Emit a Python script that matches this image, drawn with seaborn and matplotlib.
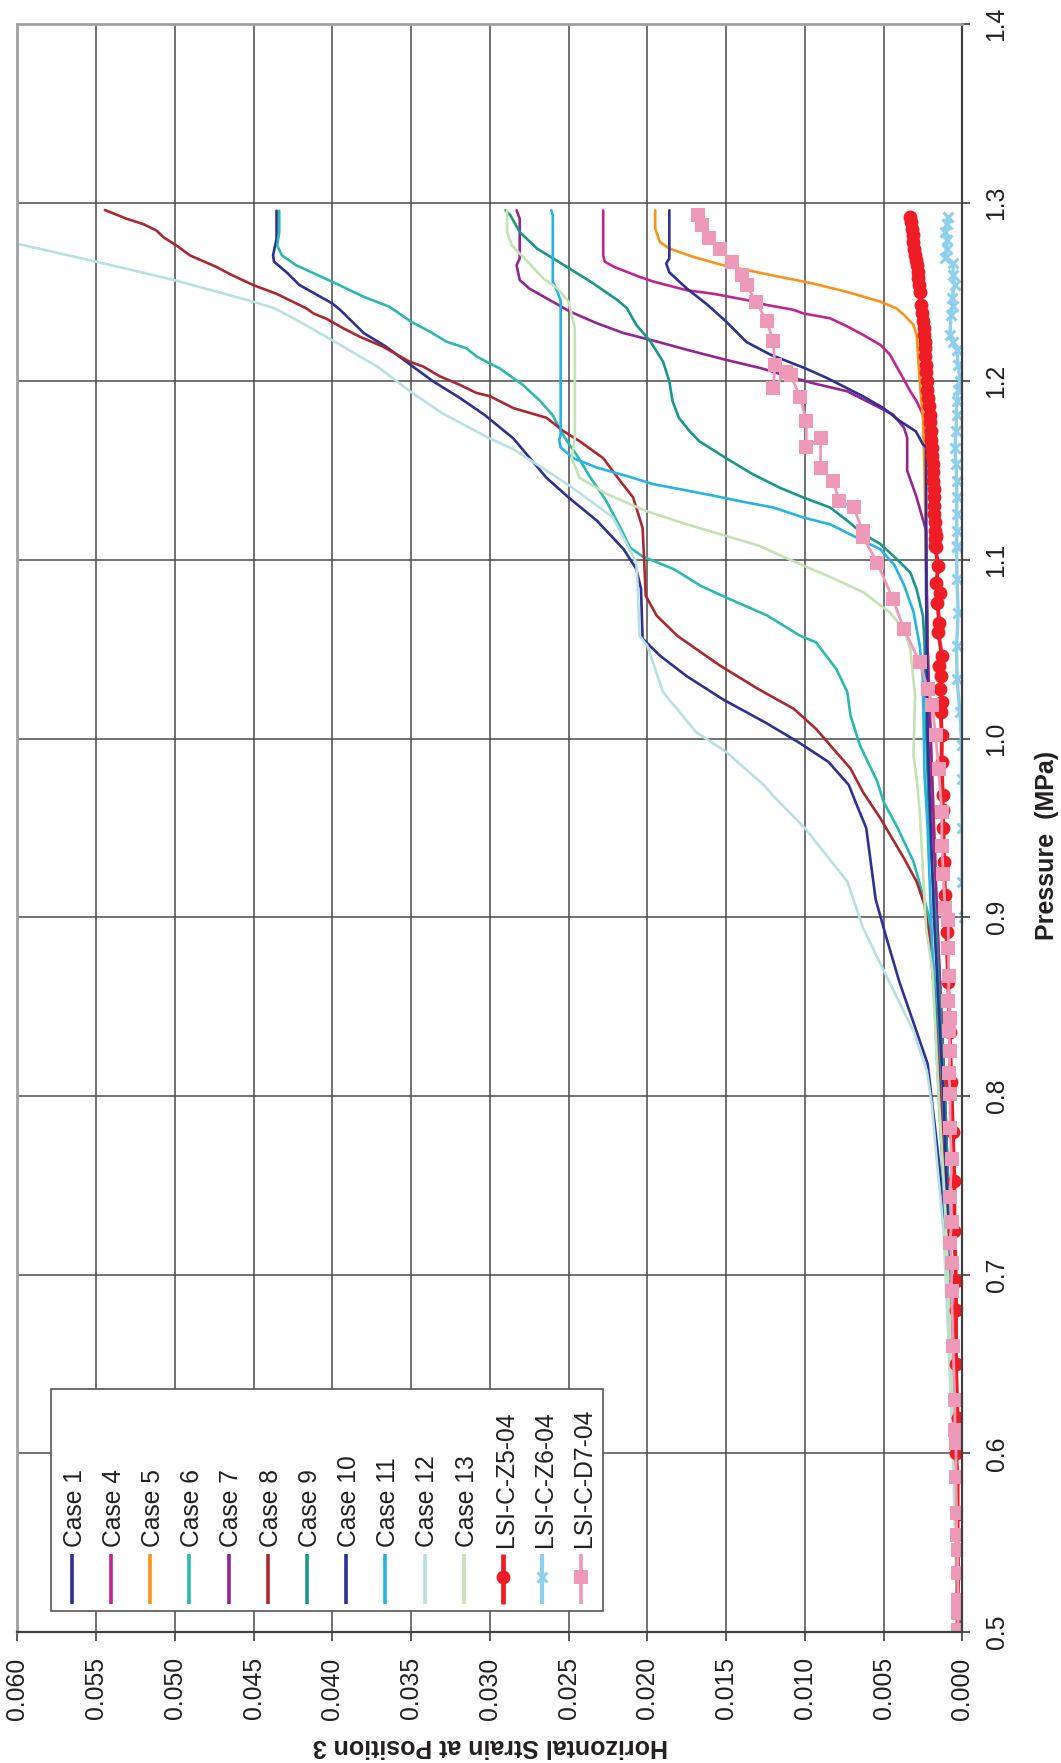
import matplotlib
matplotlib.use('Agg')
import matplotlib.pyplot as plt
import seaborn as sns
from matplotlib.lines import Line2D
from matplotlib.patches import Rectangle

# ---------------- data (strain, pressure) ----------------
series_names = ['Case 1', 'Case 4', 'Case 5', 'Case 6', 'Case 7', 'Case 8', 'Case 9',
                'Case 10', 'Case 11', 'Case 12', 'Case 13',
                'LSI-C-Z5-04', 'LSI-C-Z6-04', 'LSI-C-D7-04']

case1_s = [0.04354, 0.04354, 0.04376, 0.0437, 0.0429, 0.0421, 0.0400, 0.0395, 0.0380, 0.0366, 0.0350, 0.0336,
           0.0319, 0.0303, 0.0285, 0.0264, 0.0250, 0.0232, 0.0215, 0.0207, 0.0204, 0.0203, 0.0192, 0.0175,
           0.0152, 0.0125, 0.0104, 0.0085, 0.0072, 0.0068, 0.0061, 0.0055, 0.0048, 0.0040, 0.0029, 0.0022,
           0.0017, 0.0012, 0.0008, 0.0004, 0.0002]
case1_p = [1.2955, 1.2798, 1.2705, 1.267, 1.261, 1.254, 1.2436, 1.240, 1.227, 1.2195, 1.209, 1.200,
           1.1907, 1.181, 1.168, 1.146, 1.135, 1.122, 1.106, 1.095, 1.084, 1.056, 1.0465, 1.035,
           1.022, 1.009, 0.998, 0.987, 0.974, 0.965, 0.950, 0.910, 0.888, 0.864, 0.836, 0.818,
           0.780, 0.740, 0.700, 0.600, 0.500]

case4_s = [0.0228, 0.0228, 0.0227, 0.0221, 0.0205, 0.0196, 0.0175, 0.0158, 0.0137, 0.0124, 0.0107, 0.0101,
           0.0084, 0.0073, 0.0063, 0.0052, 0.0046, 0.0040, 0.0033, 0.0029, 0.0025, 0.0023, 0.0023, 0.0021,
           0.0016, 0.0011, 0.0007, 0.0004, 0.0002]
case4_p = [1.2957, 1.2706, 1.267, 1.264, 1.2585, 1.2558, 1.251, 1.249, 1.2455, 1.2427, 1.240, 1.238,
           1.2353, 1.2307, 1.226, 1.2204, 1.215, 1.2056, 1.1944, 1.1888, 1.1814, 1.160, 1.100, 1.000,
           0.900, 0.800, 0.700, 0.600, 0.500]

case5_s = [0.0195, 0.0195, 0.0192, 0.0186, 0.0171, 0.0152, 0.0137, 0.0116, 0.0095, 0.0073, 0.0052, 0.0042,
           0.0037, 0.0031, 0.0029, 0.0027, 0.0026, 0.0025, 0.0024, 0.0022, 0.0020, 0.0017, 0.0016, 0.0012,
           0.0010, 0.0006, 0.0002]
case5_p = [1.2957, 1.2855, 1.278, 1.2743, 1.2697, 1.265, 1.2623, 1.2585, 1.2548, 1.250, 1.2446, 1.2409,
           1.2372, 1.2316, 1.226, 1.200, 1.189, 1.181, 1.150, 1.050, 1.000, 0.930, 0.874, 0.800,
           0.725, 0.620, 0.500]

case6_s = [0.04337, 0.04337, 0.0435, 0.0432, 0.0423, 0.0400, 0.0380, 0.03636, 0.0350, 0.0338, 0.03275, 0.03148,
           0.03085, 0.0300, 0.0294, 0.0279, 0.0268, 0.0260, 0.0256, 0.0251, 0.0245, 0.0236, 0.0226, 0.0217,
           0.0211, 0.0203, 0.0183, 0.0166, 0.0150, 0.0124, 0.0103, 0.0093, 0.0080, 0.0073, 0.0071, 0.0065,
           0.0054, 0.0050, 0.0041, 0.0031, 0.0025, 0.0021, 0.0017, 0.0013, 0.0008, 0.0004, 0.0002]
case6_p = [1.2955, 1.2835, 1.276, 1.2705, 1.265, 1.2557, 1.2473, 1.2417, 1.2334, 1.2278, 1.2222, 1.2185,
           1.214, 1.210, 1.2074, 1.198, 1.189, 1.181, 1.174, 1.1665, 1.159, 1.146, 1.133, 1.118,
           1.107, 1.102, 1.0948, 1.0855, 1.079, 1.069, 1.0576, 1.054, 1.039, 1.026, 1.013, 0.9963,
           0.976, 0.9647, 0.950, 0.9312, 0.9126, 0.900, 0.860, 0.800, 0.700, 0.600, 0.500]

case7_s = [0.0283, 0.0281, 0.0281, 0.0283, 0.0281, 0.0275, 0.0264, 0.0249, 0.0232, 0.0215, 0.0194, 0.0175,
           0.0150, 0.0128, 0.0114, 0.0095, 0.0073, 0.0052, 0.0044, 0.0037, 0.0035, 0.0035, 0.0029, 0.0023,
           0.0022, 0.0020, 0.0016, 0.0011, 0.0007, 0.0004, 0.0002]
case7_p = [1.2957, 1.291, 1.2688, 1.265, 1.2567, 1.252, 1.2465, 1.239, 1.2325, 1.227, 1.2223, 1.2177,
           1.212, 1.2074, 1.2037, 1.199, 1.1944, 1.185, 1.1814, 1.174, 1.1684, 1.150, 1.135, 1.1164,
           1.050, 1.000, 0.900, 0.800, 0.700, 0.600, 0.500]

case8_s = [0.05444, 0.05306, 0.0520, 0.05116, 0.05073, 0.04989, 0.04904, 0.04735, 0.0465, 0.0450, 0.04354, 0.0425,
           0.04164, 0.0412, 0.04037, 0.0393, 0.03826, 0.0368, 0.0351, 0.03423, 0.03317, 0.0319, 0.03085, 0.0300,
           0.0285, 0.0264, 0.0253, 0.0243, 0.0228, 0.0217, 0.0209, 0.0203, 0.0202, 0.0201, 0.0194, 0.0181,
           0.0154, 0.0130, 0.0107, 0.0093, 0.0082, 0.0071, 0.0063, 0.0052, 0.0037, 0.0029, 0.0024, 0.0021,
           0.0018, 0.0014, 0.0009, 0.0005, 0.0002]
case8_p = [1.2959, 1.291, 1.288, 1.2844, 1.2807, 1.276, 1.2705, 1.264, 1.260, 1.2538, 1.249, 1.2445,
           1.2408, 1.238, 1.235, 1.2297, 1.225, 1.2195, 1.211, 1.2083, 1.2028, 1.198, 1.1935, 1.1917,
           1.185, 1.1796, 1.172, 1.1665, 1.157, 1.144, 1.135, 1.118, 1.100, 1.080, 1.0688, 1.0576,
           1.041, 1.028, 1.0167, 1.0056, 0.9944, 0.9833, 0.970, 0.9554, 0.933, 0.920, 0.907, 0.890,
           0.860, 0.800, 0.700, 0.600, 0.500]

case9_s = [0.0290, 0.0287, 0.0281, 0.0270, 0.0251, 0.0236, 0.0219, 0.0213, 0.0207, 0.0198, 0.0190, 0.0186,
           0.0184, 0.0180, 0.0173, 0.0167, 0.0150, 0.0133, 0.0116, 0.0101, 0.0084, 0.0073, 0.0063, 0.0052,
           0.0041, 0.0033, 0.0029, 0.0025, 0.0024, 0.0023, 0.0021, 0.0017, 0.0014, 0.0011, 0.0007, 0.0004,
           0.0003]
case9_p = [1.2957, 1.293, 1.2836, 1.2743, 1.264, 1.2558, 1.2455, 1.241, 1.2316, 1.2223, 1.211, 1.200,
           1.189, 1.1796, 1.172, 1.1665, 1.157, 1.148, 1.1405, 1.135, 1.1294, 1.122, 1.1145, 1.109,
           1.100, 1.093, 1.0836, 1.0688, 1.054, 1.006, 0.950, 0.900, 0.850, 0.800, 0.700, 0.600,
           0.500]

case10_s = [0.0186, 0.0186, 0.0188, 0.0186, 0.0175, 0.0162, 0.0150, 0.0137, 0.0122, 0.0100, 0.0086, 0.0063,
            0.0050, 0.0040, 0.00295, 0.0025, 0.0023, 0.0023, 0.0022, 0.0018, 0.0012, 0.0008, 0.0004, 0.0002]
case10_p = [1.2957, 1.2688, 1.266, 1.261, 1.252, 1.243, 1.2335, 1.222, 1.215, 1.2074, 1.2019, 1.1916,
            1.185, 1.178, 1.172, 1.1647, 1.163, 1.084, 1.000, 0.900, 0.800, 0.700, 0.600, 0.500]

case11_s = [0.0261, 0.0260, 0.0260, 0.0257, 0.0255, 0.0255, 0.0256, 0.0255, 0.0247, 0.0232, 0.0213, 0.0196,
            0.0179, 0.0158, 0.0137, 0.0120, 0.0101, 0.0084, 0.0069, 0.0052, 0.0043, 0.0037, 0.0031, 0.0027,
            0.0025, 0.0024, 0.0022, 0.0019, 0.0015, 0.0009, 0.0005, 0.0002]
case11_p = [1.2957, 1.293, 1.2558, 1.250, 1.245, 1.170, 1.167, 1.163, 1.157, 1.1517, 1.147, 1.1424,
            1.1396, 1.136, 1.1322, 1.1294, 1.1238, 1.120, 1.1134, 1.106, 1.097, 1.086, 1.071, 1.052,
            1.033, 0.980, 0.950, 0.880, 0.800, 0.700, 0.600, 0.500]

case12_s = [0.0603, 0.0600, 0.0550, 0.0500, 0.0450, 0.0437, 0.0424, 0.0400, 0.0371, 0.0350, 0.0330, 0.0300,
            0.0285, 0.0250, 0.0222, 0.0213, 0.0207, 0.0206, 0.0205, 0.0200, 0.0190, 0.0169, 0.0150, 0.0126,
            0.0120, 0.0100, 0.0073, 0.0063, 0.0052, 0.0031, 0.00225, 0.00194, 0.0016, 0.00119, 0.0010,
            0.0006, 0.0003]
case12_p = [1.2778, 1.277, 1.267, 1.2566, 1.2445, 1.241, 1.235, 1.223, 1.208, 1.194, 1.182, 1.168,
            1.162, 1.142, 1.124, 1.109, 1.0985, 1.0836, 1.0576, 1.052, 1.026, 1.0037, 0.9926, 0.974,
            0.968, 0.950, 0.920, 0.894, 0.874, 0.8363, 0.814, 0.7953, 0.762, 0.7246, 0.687,
            0.600, 0.500]

case13_s = [0.0289, 0.0289, 0.0286, 0.0276, 0.0266, 0.0257, 0.0250, 0.0247, 0.0246, 0.0246, 0.0248, 0.0243,
            0.0226, 0.0201, 0.0175, 0.0154, 0.0129, 0.0110, 0.0080, 0.0063, 0.0046, 0.0037, 0.0033, 0.0030,
            0.0031, 0.0029, 0.0027, 0.0023, 0.0019, 0.0015, 0.0011, 0.0009, 0.0005, 0.0003]
case13_p = [1.2957, 1.2836, 1.276, 1.267, 1.2576, 1.252, 1.2446, 1.2335, 1.230, 1.1684, 1.157, 1.146,
            1.137, 1.1275, 1.120, 1.1145, 1.108, 1.1004, 1.089, 1.082, 1.0706, 1.0613, 1.050, 1.024,
            0.9907, 0.9777, 0.959, 0.894, 0.870, 0.800, 0.740, 0.700, 0.600, 0.500]

z5_s = [0.00332, 0.00326, 0.00321, 0.00316, 0.00311, 0.00305, 0.00300, 0.00295, 0.00290, 0.00284, 0.00279,
        0.00274, 0.00269, 0.00265, 0.00257, 0.00248, 0.00246, 0.00244, 0.00240, 0.00237, 0.00234,
        0.00231, 0.00228, 0.00226, 0.00221, 0.00216, 0.00210, 0.00205, 0.00203, 0.00201, 0.00197,
        0.00194, 0.00191, 0.00188, 0.00186, 0.00184, 0.00182, 0.00180, 0.00179, 0.00178, 0.00175,
        0.00173, 0.00171, 0.00169, 0.00165, 0.00173, 0.00152, 0.00165, 0.00140, 0.00159, 0.00146,
        0.00152, 0.00130, 0.00146, 0.00137, 0.00140, 0.00131, 0.00137, 0.00130, 0.00131,
        0.00125, 0.00125, 0.00120, 0.00116,
        0.00110, 0.00100, 0.00090, 0.00080, 0.00070, 0.00060, 0.00050, 0.00050, 0.00040, 0.00040, 0.00040,
        0.00030, 0.00040, 0.00030, 0.00030, 0.00030, 0.00030, 0.00030, 0.00030, 0.00030]
z5_p = [1.292, 1.289, 1.2855, 1.282, 1.278, 1.274, 1.2706, 1.268, 1.265, 1.261, 1.2576,
        1.254, 1.2502, 1.2428, 1.238, 1.2335, 1.230, 1.226, 1.222, 1.2186, 1.214,
        1.2093, 1.205, 1.200, 1.195, 1.1907, 1.186, 1.1814, 1.177, 1.1721, 1.167,
        1.1628, 1.158, 1.1535, 1.149, 1.1442, 1.140, 1.135, 1.130, 1.1257, 1.121,
        1.1164, 1.112, 1.107, 1.1134, 1.1078, 1.0967, 1.0874, 1.0818, 1.0762, 1.065,
        1.0595, 1.0465, 1.0409, 1.0353, 1.0279, 1.0204, 1.0149, 1.0019, 0.987,
        0.9684, 0.960, 0.9498, 0.9312,
        0.9126, 0.892, 0.864, 0.836, 0.808, 0.780, 0.7525, 0.7246, 0.6967, 0.680, 0.650,
        0.620, 0.600, 0.587, 0.566, 0.546, 0.533, 0.518, 0.511, 0.501]

z6_s = [0.00089, 0.00100, 0.00109, 0.00095, 0.00100, 0.00109, 0.00057, 0.00060, 0.00047, 0.00068, 0.00060,
        0.00072, 0.00078, 0.00060, 0.00036, 0.00026, 0.00015, 0.00026, 0.00034, 0.00036, 0.00040, 0.00047,
        0.00040, 0.00036, 0.00034, 0.00036, 0.00034, 0.00036, 0.00036, 0.00034, 0.00026, 0.00036, 0.00034,
        0.00015, 0.00005, 0.00005, 0.00000, 0.00000, -0.00010]
z6_p = [1.292, 1.288, 1.2836, 1.279, 1.2743, 1.2688, 1.266, 1.2595, 1.2539, 1.2465, 1.242,
        1.2372, 1.226, 1.222, 1.2177, 1.2093, 1.200, 1.195, 1.1888, 1.1814, 1.1721, 1.1628,
        1.1535, 1.1442, 1.135, 1.1257, 1.1164, 1.107, 1.1078, 1.0892, 1.0706, 1.052, 1.0335,
        1.0149, 0.9963, 0.9777, 0.950, 0.920, 0.900]

d7_s = [0.0168, 0.0165, 0.0161, 0.0154, 0.0146, 0.0140, 0.0137, 0.0131, 0.0124, 0.0120, 0.0119, 0.0120,
        0.0112, 0.0109, 0.0103, 0.0099, 0.0099, 0.0090, 0.0090, 0.0082, 0.0078, 0.0069, 0.0063, 0.0063,
        0.0054, 0.0044, 0.0037, 0.0027, 0.0022, 0.0019, 0.0017, 0.0015, 0.0013, 0.0013, 0.0012, 0.0011,
        0.00089, 0.00089, 0.00085, 0.00089, 0.00078, 0.00085, 0.00078, 0.00085, 0.00078, 0.00078, 0.00068,
        0.00078, 0.00068, 0.00078, 0.00068, 0.00068, 0.00058, 0.00047, 0.00047, 0.00040, 0.00040, 0.00036,
        0.00036, 0.00030, 0.00030, 0.00026, 0.00026, 0.00030]
d7_p = [1.293, 1.2874, 1.280, 1.2743, 1.267, 1.2595, 1.254, 1.2446, 1.2335, 1.2223, 1.209, 1.196,
        1.205, 1.2037, 1.191, 1.178, 1.163, 1.1684, 1.1517, 1.144, 1.133, 1.1294, 1.116, 1.113,
        1.0985, 1.078, 1.0613, 1.0427, 1.028, 1.0186, 1.002, 0.983, 0.959, 0.940, 0.924, 0.905,
        0.8987, 0.8829, 0.867, 0.853, 0.8438, 0.8363, 0.8251, 0.813, 0.8009, 0.7823, 0.7646,
        0.7432, 0.7292, 0.718, 0.7068, 0.691, 0.660, 0.6298, 0.613, 0.6058, 0.587, 0.5666,
        0.5543, 0.546, 0.533, 0.518, 0.5106, 0.501]

strain_ticks = [0.060, 0.055, 0.050, 0.045, 0.040, 0.035, 0.030, 0.025, 0.020, 0.015, 0.010, 0.005, 0.000]
strain_tick_labels = ['0.060', '0.055', '0.050', '0.045', '0.040', '0.035', '0.030',
                      '0.025', '0.020', '0.015', '0.010', '0.005', '0.000']
pressure_ticks = [0.5, 0.6, 0.7, 0.8, 0.9, 1.0, 1.1, 1.2, 1.3, 1.4]
pressure_tick_labels = ['0.5', '0.6', '0.7', '0.8', '0.9', '1.0', '1.1', '1.2', '1.3', '1.4']

# ---------------- styles ----------------
colors = {
    'Case 1': '#2e3192', 'Case 4': '#c1258f', 'Case 5': '#f7941d', 'Case 6': '#2cb9b1',
    'Case 7': '#92278f', 'Case 8': '#ac2830', 'Case 9': '#1a968a', 'Case 10': '#2e3192',
    'Case 11': '#27b4e4', 'Case 12': '#b9e1df', 'Case 13': '#c4e2b4',
    'LSI-C-Z5-04': '#ee1c25', 'LSI-C-Z6-04': '#8ecfec', 'LSI-C-D7-04': '#ee99b8',
}
data = {
    'Case 1': (case1_s, case1_p), 'Case 4': (case4_s, case4_p), 'Case 5': (case5_s, case5_p),
    'Case 6': (case6_s, case6_p), 'Case 7': (case7_s, case7_p), 'Case 8': (case8_s, case8_p),
    'Case 9': (case9_s, case9_p), 'Case 10': (case10_s, case10_p), 'Case 11': (case11_s, case11_p),
    'Case 12': (case12_s, case12_p), 'Case 13': (case13_s, case13_p),
    'LSI-C-Z5-04': (z5_s, z5_p), 'LSI-C-Z6-04': (z6_s, z6_p), 'LSI-C-D7-04': (d7_s, d7_p),
}
markers = {'LSI-C-Z5-04': ('o', 10.0, 0.0, 2.8), 'LSI-C-Z6-04': ('x', 6.5, 2.2, 2.4),
           'LSI-C-D7-04': ('s', 10.5, 0.0, 2.0)}

sns.set_theme(style='white')
plt.rcParams['font.family'] = ['Liberation Sans', 'DejaVu Sans']
text_color = '#231f20'

W, H = 1061, 1763
fig = plt.figure(figsize=(W / 100, H / 100), dpi=100)
fig.patch.set_facecolor('white')
L, R, T, B = 17.3, 962.3, 24.0, 1632.0
ax = fig.add_axes([L / W, 1 - B / H, (R - L) / W, (B - T) / H])
ax.set_facecolor('white')

for name in series_names:
    s, p = data[name]
    c = colors[name]
    if name in markers:
        m, ms, mew, lw = markers[name]
        sns.lineplot(x=s, y=p, sort=False, estimator=None, ax=ax, color=c, linewidth=lw,
                     marker=m, markersize=ms, markeredgewidth=mew, markeredgecolor=c,
                     markerfacecolor=c, legend=False)
    else:
        sns.lineplot(x=s, y=p, sort=False, estimator=None, ax=ax, color=c, linewidth=1.9,
                     legend=False)

ax.set_xlim(0.060, 0.000)
ax.set_ylim(0.5, 1.4)
ax.set_xlabel('')
ax.set_ylabel('')
ax.set_xticks(strain_ticks, strain_tick_labels)
ax.set_yticks(pressure_ticks, pressure_tick_labels)
ax.set_axisbelow(True)
ax.grid(True, color='#4a4a4a', linewidth=1.1)

ax.yaxis.tick_right()
ax.tick_params(axis='x', direction='out', length=6.7, width=1.2, color='#404040', pad=11.5,
               labelsize=17.8, labelrotation=90, labelcolor=text_color, bottom=True, top=False)
ax.tick_params(axis='y', direction='out', length=6, width=1.2, color='#404040', pad=10,
               labelsize=17.8, labelrotation=90, labelcolor=text_color, right=True, left=False,
               labelright=True, labelleft=False)
for lab in ax.get_yticklabels():
    lab.set_va('center')
    lab.set_ha('left')

for side in ['left', 'top']:
    ax.spines[side].set_color('#a0a0a0')
    ax.spines[side].set_linewidth(2.0)
for side in ['right', 'bottom']:
    ax.spines[side].set_color('#404040')
    ax.spines[side].set_linewidth(1.6)

# axis titles
fig.text(490 / W, 1 - 1746 / H, 'Horizontal Strain at Position 3', rotation=180, ha='center',
         va='center', fontsize=18, fontweight='bold', color=text_color)
fig.text(1047 / W, 1 - 845 / H, 'Pressure  (MPa)', rotation=90, ha='center', va='center',
         fontsize=18, fontweight='bold', color=text_color)

# legend (rotated, drawn by hand)
def fx(px):
    return px / W

def fy(py):
    return 1 - py / H

fig.add_artist(Rectangle((fx(50.7), fy(1611)), (602.5 - 50.7) / W, (1611 - 1389) / H,
                         transform=fig.transFigure, facecolor='white', edgecolor='#555555',
                         linewidth=1.2, zorder=5))
for i, name in enumerate(series_names):
    x = 71.7 + 39.2 * i
    c = colors[name]
    lw = 2.6 if name not in markers else markers[name][3] + 0.6
    fig.add_artist(Line2D([fx(x), fx(x)], [fy(1554), fy(1604)], transform=fig.transFigure,
                          color=c, linewidth=lw, zorder=6, solid_capstyle='butt'))
    if name in markers:
        m, ms, mew, _ = markers[name]
        fig.add_artist(Line2D([fx(x)], [fy(1577)], transform=fig.transFigure, linestyle='none',
                              marker=m, markersize=ms, markeredgewidth=mew, color=c,
                              markeredgecolor=c, markerfacecolor=c, zorder=7))
    fig.text(fx(x + 3), fy(1547), name, rotation=90, rotation_mode='anchor', ha='left',
             va='center', fontsize=17.7, color=text_color, zorder=8)

fig.savefig('out.png', dpi=100, facecolor='white')
